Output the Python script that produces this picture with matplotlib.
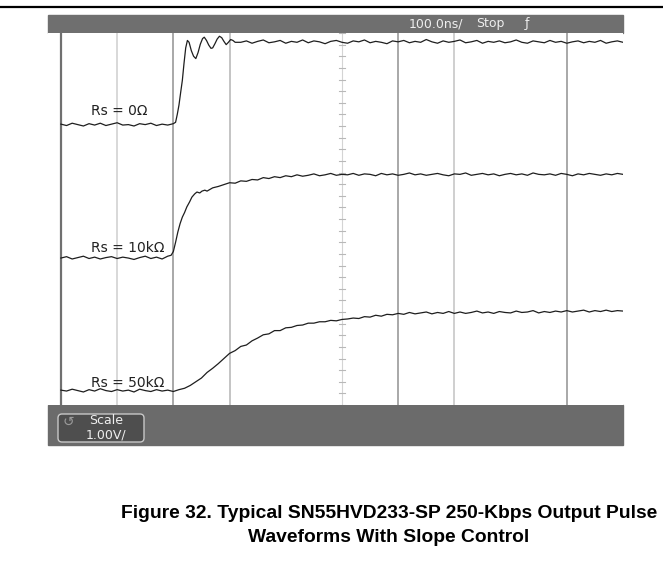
import numpy as np
import matplotlib.pyplot as plt
from matplotlib.patches import Rectangle, FancyBboxPatch

# ---------- data (time in ns, level in V) ----------
t_div = 100  # ns per division
v_div = 1.00  # V per division

# Rs = 0 ohm
t0_low = np.arange(-500, -299, 10)
v0_low = [2.04, 2.01, 2.06, 2.03, 2.00, 2.05, 2.02, 2.06, 2.01, 2.04, 2.07,
          2.02, 2.03, 2.00, 2.05, 2.03, 2.06, 2.01, 2.04, 2.02, 2.05]
t0_edge = [-296, -293, -290, -287, -284, -281, -278, -275, -272, -268, -264, -260,
           -256, -252, -248, -245, -241, -237, -233, -230, -226, -222, -218, -214,
           -210, -206, -202, -198, -194, -190]
v0_edge = [2.08, 2.25, 2.45, 2.72, 2.98, 3.35, 3.68, 3.84, 3.80, 3.62, 3.50, 3.45,
           3.58, 3.76, 3.88, 3.91, 3.84, 3.74, 3.67, 3.68, 3.77, 3.87, 3.93, 3.90,
           3.82, 3.75, 3.80, 3.86, 3.84, 3.80]
t0_high = np.arange(-180, 501, 10)
v0_high = [3.80, 3.83, 3.78, 3.82, 3.85, 3.79, 3.81, 3.84, 3.78, 3.82,
           3.80, 3.85, 3.79, 3.83, 3.81, 3.77, 3.82, 3.84, 3.80, 3.78,
           3.83, 3.81, 3.85, 3.79, 3.82, 3.80, 3.77, 3.83, 3.81, 3.84,
           3.79, 3.82, 3.80, 3.86, 3.81, 3.78, 3.83, 3.80, 3.82, 3.85,
           3.79, 3.81, 3.84, 3.78, 3.82, 3.80, 3.83, 3.79, 3.81, 3.85,
           3.80, 3.78, 3.83, 3.81, 3.79, 3.84, 3.80, 3.82, 3.78, 3.81,
           3.83, 3.79, 3.82, 3.80, 3.84, 3.78, 3.81, 3.83, 3.80]

# Rs = 10 kohm
t10_low = np.arange(-500, -309, 10)
v10_low = [-0.84, -0.81, -0.86, -0.83, -0.80, -0.85, -0.82, -0.86, -0.83, -0.81,
           -0.85, -0.82, -0.84, -0.87, -0.83, -0.80, -0.85, -0.82, -0.86, -0.80]
t10_edge = [-304, -300, -296, -292, -288, -284, -280, -276, -271, -267, -262, -258,
            -253, -249, -244, -240]
v10_edge = [-0.78, -0.70, -0.50, -0.28, -0.10, 0.04, 0.14, 0.26, 0.37, 0.47, 0.54, 0.58,
            0.56, 0.60, 0.62, 0.60]
t10_high = np.arange(-230, 501, 10)
v10_high = [0.67, 0.70, 0.74, 0.78, 0.77, 0.82, 0.81, 0.85, 0.84, 0.89, 0.87, 0.91,
            0.89, 0.93, 0.91, 0.95, 0.92, 0.94, 0.97, 0.93, 0.95, 0.98, 0.94, 0.96,
            0.95, 0.98, 0.94, 0.97, 0.96, 0.93, 0.98, 0.95, 0.97, 0.94, 0.96, 0.99,
            0.95, 0.97, 0.94, 0.96, 0.98, 0.95, 0.93, 0.97, 0.96, 0.99, 0.94, 0.96,
            0.98, 0.95, 0.97, 0.93, 0.96, 0.98, 0.95, 0.97, 0.94, 0.99, 0.96, 0.95,
            0.97, 0.94, 0.98, 0.96, 0.93, 0.97, 0.95, 0.98, 0.96, 0.94, 0.97, 0.95,
            0.98, 0.96]

# Rs = 50 kohm
t50 = np.arange(-500, 501, 10)
v50 = [-3.68, -3.70, -3.66, -3.69, -3.72, -3.67, -3.70, -3.65, -3.69, -3.71, -3.67,
       -3.70, -3.68, -3.72, -3.66, -3.69, -3.71, -3.67, -3.70, -3.68, -3.71, -3.67,
       -3.64, -3.58, -3.50, -3.42, -3.30, -3.21, -3.11, -3.00, -2.89, -2.83, -2.74,
       -2.71, -2.62, -2.56, -2.49, -2.47, -2.40, -2.40, -2.34, -2.33, -2.29, -2.28,
       -2.24, -2.24, -2.21, -2.21, -2.18, -2.19, -2.16,
       -2.15, -2.13, -2.14, -2.10, -2.11, -2.07, -2.09, -2.05, -2.06, -2.03,
       -2.05, -2.01, -2.04, -2.02, -2.00, -2.04, -2.01, -2.03, -1.99, -2.03,
       -2.00, -2.03, -2.01, -1.98, -2.02, -2.00, -2.03, -1.99, -2.01, -2.02,
       -1.98, -2.01, -2.00, -1.97, -2.02, -1.99, -2.01, -1.98, -2.00, -1.97,
       -2.00, -1.98, -1.96, -2.00, -1.97, -1.99, -1.96, -1.99, -1.97, -1.98]

labels = ["Rs = 0Ω", "Rs = 10kΩ", "Rs = 50kΩ"]
label_v = [2.32, -0.62, -3.53]

# grid lines that show up on the screen shot, with their shade
grid_t = [-500, -400, -300, -200, 100, 200, 400]
grid_c = ["#707070", "#d8d8d8", "#a8a8a8", "#c4c4c4", "#a8a8a8", "#cfcfcf", "#a8a8a8"]

W, H = 663, 562


def rect(x0, y0, x1, y1):
    return [x0 / W, 1 - y1 / H, (x1 - x0) / W, (y1 - y0) / H]


fig = plt.figure(figsize=(W / 100, H / 100), dpi=100)

# page overlay in pixel units
page = fig.add_axes([0, 0, 1, 1], zorder=0)
page.set_xlim(0, W)
page.set_ylim(H, 0)
page.axis("off")
page.plot([0, W], [7, 7], color="black", lw=1.6)
page.add_patch(Rectangle((48, 15), 575, 18, color="#6f6f6f"))
page.add_patch(Rectangle((48, 405), 575, 40, color="#6b6b6b"))
page.add_patch(FancyBboxPatch((58, 414), 86, 28, boxstyle="round,pad=0,rounding_size=4",
                              fc="#4e4e4e", ec="#c8c8c8", lw=1))
page.text(436, 24, "100.0ns/", color="#eeeeee", fontsize=9, ha="center", va="center")
page.text(490, 24, "Stop", color="#eeeeee", fontsize=9, ha="center", va="center")
page.text(527, 24, "ƒ", color="#eeeeee", fontsize=9, ha="center", va="center")
page.text(68, 422, "↺", color="#9a9a9a", fontsize=10, ha="center", va="center")
page.text(106, 421, "Scale", color="#eeeeee", fontsize=9, ha="center", va="center")
page.text(106, 435, "1.00V/", color="#eeeeee", fontsize=9, ha="center", va="center")
cap = dict(fontsize=13.9, fontweight="bold", ha="center", va="center",
           family=["Liberation Sans", "DejaVu Sans"])
page.text(389, 513, "Figure 32. Typical SN55HVD233-SP 250-Kbps Output Pulse", **cap)
page.text(389, 538, "Waveforms With Slope Control", **cap)

# scope screen
ax = fig.add_axes(rect(48, 33, 623, 405), zorder=1)
ax.set_facecolor("white")
ax.set_xlim(-523, 500)
ax.set_ylim(-4, 4)
for t, c in zip(grid_t, grid_c):
    ax.axvline(t, color=c, lw=1.6 if t == -500 else 1.4, zorder=1)
ax.axvline(0, color="#d4d4d4", lw=0.8, zorder=1)
for v in np.arange(-4, 4.01, 0.25):
    ax.plot([-5, 5], [v, v], color="#b8b8b8", lw=0.8, zorder=1)

tr = dict(color="#1e1e1e", lw=0.9, zorder=3)
ax.plot(np.concatenate([t0_low, t0_edge, t0_high]), v0_low + v0_edge + v0_high, **tr)
ax.plot(np.concatenate([t10_low, t10_edge, t10_high]), v10_low + v10_edge + v10_high, **tr)
ax.plot(t50, v50, **tr)

for lab, v in zip(labels, label_v):
    ax.text(-446, v, lab, fontsize=10, color="#222222", ha="left", va="center", zorder=4)

ax.set_xticks([])
ax.set_yticks([])
for s in ax.spines.values():
    s.set_visible(False)

fig.savefig("out.png", dpi=100)
